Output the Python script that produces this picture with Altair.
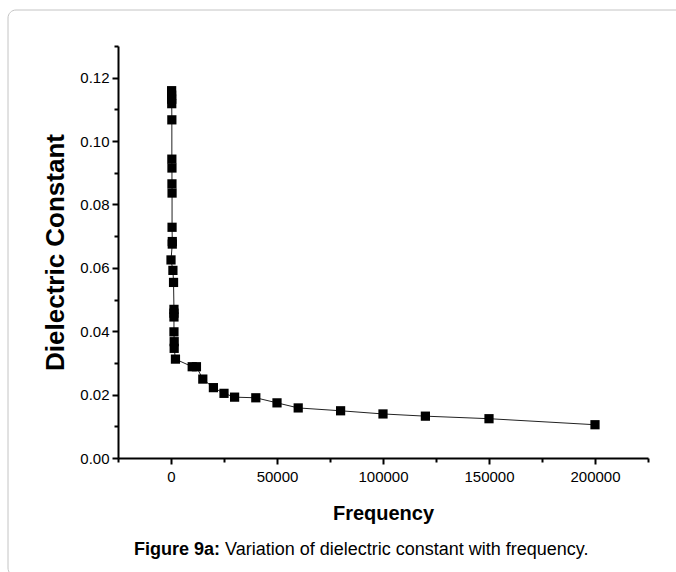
import altair as alt
import pandas as pd

# Data (in plotting order)
frequency = [300, 300, 350, 350, 400, 400, 450, 450, 500, 500, 600, 600, 0,
             900, 1200, 1400, 1400, 1400, 1400, 1500, 1500, 2100,
             10000, 12000, 15000, 20000, 25000, 30000, 40000, 50000, 60000,
             80000, 100000, 120000, 150000, 200000]
dielectric = [0.1159, 0.1145, 0.1132, 0.1118, 0.1067, 0.0943, 0.0915, 0.0865,
              0.0836, 0.0728, 0.0683, 0.0675, 0.0625, 0.0592, 0.0554, 0.0469,
              0.0457, 0.0445, 0.0398, 0.0367, 0.0346, 0.0312,
              0.0288, 0.0288, 0.0249, 0.0222, 0.0204, 0.0192, 0.0190, 0.0174,
              0.0158, 0.0149, 0.0139, 0.0132, 0.0124, 0.0105]

x_ticks = [-25000 + 25000 * i for i in range(11)]
y_ticks = [round(0.01 * i, 2) for i in range(14)]

df = pd.DataFrame({"order": list(range(len(frequency))),
                   "Frequency": frequency,
                   "Dielectric": dielectric})

FONT = "Liberation Sans"

x_enc = alt.X("Frequency:Q",
              scale=alt.Scale(domain=[-25000, 225000], nice=False, zero=False),
              axis=alt.Axis(title="Frequency", values=x_ticks, format="d",
                            labelExpr="datum.value % 50000 == 0 ? datum.label : ''",
                            tickSize={"condition": {"test": "datum.value % 50000 == 0", "value": 6}, "value": 4},
                            grid=False, labelFlush=False, labelOverlap=False,
                            titleFontSize=20, titlePadding=19, labelPadding=5))
y_enc = alt.Y("Dielectric:Q",
              scale=alt.Scale(domain=[0, 0.13], nice=False),
              axis=alt.Axis(title="Dielectric Constant", values=y_ticks, format=".2f",
                            labelExpr="round(datum.value * 100) % 2 == 0 ? datum.label : ''",
                            tickSize={"condition": {"test": "round(datum.value * 100) % 2 == 0", "value": 6}, "value": 4},
                            grid=False, labelFlush=False, labelOverlap=False,
                            titleFontSize=26, titlePadding=11, labelPadding=3))

base = alt.Chart(df)

line = base.mark_line(color="#222222", strokeWidth=1).encode(
    x=x_enc, y=y_enc, order="order:Q")
points = base.mark_point(shape="square", filled=True, color="black",
                         size=85, opacity=1).encode(x=x_enc, y=y_enc)

deco = alt.Data(values=[{"a": 1}])
frame = alt.Chart(deco).mark_rect(fillOpacity=0, stroke="#c4c4c4", strokeWidth=1,
                                   cornerRadius=8).encode(
    x=alt.value(-110), x2=alt.value(580), y=alt.value(-36), y2=alt.value(530))
cap_bold = alt.Chart(deco).mark_text(text="Figure 9a:", font=FONT, fontSize=18,
                                     fontWeight="bold", align="right",
                                     baseline="middle", color="black").encode(
    x=alt.value(102), y=alt.value(504))
cap_rest = alt.Chart(deco).mark_text(text="Variation of dielectric constant with frequency.",
                                     font=FONT, fontSize=18, align="left",
                                     baseline="middle", color="black").encode(
    x=alt.value(107), y=alt.value(504))

chart = alt.layer(frame, line, points, cap_bold, cap_rest).properties(
    width=530, height=412,
    autosize="none",
    padding={"left": 118, "top": 46, "right": 28, "bottom": 114},
).configure_view(stroke=None).configure_axis(
    domainColor="black", domainWidth=2, tickColor="black", tickWidth=2,
    labelFont=FONT, labelFontSize=15, labelColor="black",
    titleFont=FONT, titleFontWeight="bold", titleColor="black",
)

chart.save("out.html", embed_options={"renderer": "svg", "actions": False})
